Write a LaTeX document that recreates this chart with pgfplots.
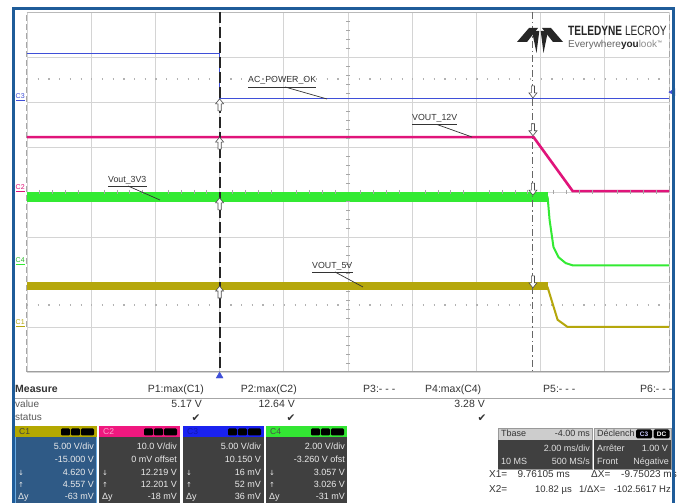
\documentclass[border=0pt]{standalone}
\usepackage{pgfplots}
\pgfplotsset{compat=1.18}
\usepackage{fontspec}
\setmainfont{Liberation Sans}
\newfontfamily\dejavu{DejaVu Sans}
\definecolor{frameblue}{HTML}{1F5C99}
\definecolor{trblue}{HTML}{3F4FD8}
\definecolor{trmag}{HTML}{E0147A}
\definecolor{trgreen}{HTML}{33EA33}
\definecolor{trolive}{HTML}{B5A70C}
\definecolor{gridgray}{HTML}{D4D4D4}
\definecolor{boxgray}{HTML}{404040}
\definecolor{c1body}{HTML}{2F5A86}
\definecolor{c1border}{HTML}{6AAAE0}
\definecolor{hdrgray}{HTML}{CDCDCD}
\definecolor{txtgray}{HTML}{333333}
\definecolor{hdrolive}{HTML}{B4A800}
\definecolor{hdrmag}{HTML}{F0187F}
\definecolor{hdrblue}{HTML}{1A22F0}
\definecolor{hdrgreen}{HTML}{33E633}
\pgfdeclareplotmark{uarr}{%
  \pgfpathmoveto{\pgfqpoint{0pt}{0pt}}%
  \pgfpathlineto{\pgfqpoint{4pt}{-5pt}}%
  \pgfpathlineto{\pgfqpoint{1.6pt}{-5pt}}%
  \pgfpathlineto{\pgfqpoint{1.6pt}{-12pt}}%
  \pgfpathlineto{\pgfqpoint{-1.6pt}{-12pt}}%
  \pgfpathlineto{\pgfqpoint{-1.6pt}{-5pt}}%
  \pgfpathlineto{\pgfqpoint{-4pt}{-5pt}}%
  \pgfpathclose
  \pgfusepathqfillstroke}
\pgfdeclareplotmark{darr}{%
  \pgfpathmoveto{\pgfqpoint{0pt}{0pt}}%
  \pgfpathlineto{\pgfqpoint{4pt}{5pt}}%
  \pgfpathlineto{\pgfqpoint{1.6pt}{5pt}}%
  \pgfpathlineto{\pgfqpoint{1.6pt}{12pt}}%
  \pgfpathlineto{\pgfqpoint{-1.6pt}{12pt}}%
  \pgfpathlineto{\pgfqpoint{-1.6pt}{5pt}}%
  \pgfpathlineto{\pgfqpoint{-4pt}{5pt}}%
  \pgfpathclose
  \pgfusepathqfillstroke}
\tikzset{
  lab/.style={inner sep=0pt, text=txtgray, font=\fontsize{8.8}{9}\selectfont},
  mt/.style={inner sep=0pt, text=txtgray, font=\fontsize{10.5}{12}\selectfont},
  bt/.style={inner sep=0pt, text=white!92!black, font=\fontsize{9}{10}\selectfont},
  tb/.style={inner sep=0pt, text=white!88!black, font=\fontsize{9}{10}\selectfont},
  th/.style={inner sep=0pt, text=txtgray, font=\fontsize{9}{10}\selectfont},
}
\newcommand{\chrows}[7]{%
  \node[bt,anchor=mid east] at (#1,447) {#3};
  \node[bt,anchor=mid east] at (#1,460) {#4};
  \node[bt,anchor=mid east] at (#1,472.5) {#5};
  \node[bt,anchor=mid east] at (#1,485) {#6};
  \node[bt,anchor=mid east] at (#1,497) {#7};
  \node[bt,anchor=mid west] at (#2,472.5) {{\dejavu\fontsize{7}{8}\selectfont ↓}};
  \node[bt,anchor=mid west] at (#2,485) {{\dejavu\fontsize{7}{8}\selectfont ↑}};
  \node[bt,anchor=mid west] at (#2,497) {Δy};
}
\newcommand{\badges}[1]{%
  \fill[black, rounded corners=1.2pt] (#1-36,428.5) rectangle (#1-27,435.5);
  \fill[black, rounded corners=1.2pt] (#1-26,428.5) rectangle (#1-17,435.5);
  \fill[black, rounded corners=1.2pt] (#1-16,428.5) rectangle (#1-3,435.5);
}
\begin{document}
\begin{tikzpicture}
\fill[white] (0,0) rectangle (681pt,503pt);
\useasboundingbox (0,0) rectangle (681pt,503pt);
\begin{axis}[
  at={(27pt,131pt)}, anchor=south west,
  scale only axis, width=642pt, height=360pt,
  xmin=-6, xmax=14, ymin=-4, ymax=4,
  xtick={-6,-4,...,14}, ytick={-4,-3,...,4},
  xticklabels={}, yticklabels={},
  major tick length=0pt,
  grid=major, major grid style={gridgray, line width=0.8pt},
  axis line style={draw=none},
  clip=false,
]
% borders
\draw[gray!55, line width=0.8pt] (axis cs:-6,4) -- (axis cs:14,4);
\draw[gray!75, line width=1pt] (axis cs:-6,-4) -- (axis cs:14,-4);
\draw[gray!70, line width=1pt, dash pattern=on 6pt off 3pt] (axis cs:-6,-4) -- (axis cs:-6,4);
\draw[gray!70, line width=1pt, dash pattern=on 6pt off 3pt] (axis cs:14,-4) -- (axis cs:14,4);
% centre minor ticks
\addplot[only marks, mark=-, mark size=2pt, gray!70, mark options={line width=0.7pt}] coordinates {
 (4,-3.8)(4,-3.6)(4,-3.4)(4,-3.2)(4,-2.8)(4,-2.6)(4,-2.4)(4,-2.2)
 (4,-1.8)(4,-1.6)(4,-1.4)(4,-1.2)(4,-0.8)(4,-0.6)(4,-0.4)(4,-0.2)
 (4,0.2)(4,0.4)(4,0.6)(4,0.8)(4,1.2)(4,1.4)(4,1.6)(4,1.8)
 (4,2.2)(4,2.4)(4,2.6)(4,2.8)(4,3.2)(4,3.4)(4,3.6)(4,3.8)};
\addplot[only marks, mark=|, mark size=2pt, gray!70, mark options={line width=0.7pt}] coordinates {
 (-5.6,0)(-5.2,0)(-4.8,0)(-4.4,0)(-3.6,0)(-3.2,0)(-2.8,0)(-2.4,0)
 (-1.6,0)(-1.2,0)(-0.8,0)(-0.4,0)(0.4,0)(0.8,0)(1.2,0)(1.6,0)
 (2.4,0)(2.8,0)(3.2,0)(3.6,0)(4.4,0)(4.8,0)(5.2,0)(5.6,0)
 (6.4,0)(6.8,0)(7.2,0)(7.6,0)(8.4,0)(8.8,0)(9.2,0)(9.6,0)
 (10.4,0)(10.8,0)(11.2,0)(11.6,0)(12.4,0)(12.8,0)(13.2,0)(13.6,0)};
% dotted level lines
\draw[gray!60, line width=1.2pt, dash pattern=on 1.2pt off 9.5pt] (axis cs:-6,2.51) -- (axis cs:14,2.51);
\draw[gray!60, line width=1.2pt, dash pattern=on 1.2pt off 9.5pt] (axis cs:-6,-2.51) -- (axis cs:14,-2.51);
% traces
\addplot[trblue, line width=1.2pt] coordinates {(-6,3.07) (0,3.07) (0,2.07) (14,2.07)};
\addplot[trmag, line width=2.6pt] coordinates {(-6,1.22) (9.78,1.22) (11.0,0.02) (14,0.02)};
\addplot[trgreen, line width=9.5pt] coordinates {(-6,-0.11) (10.22,-0.11)};
\addplot[trgreen, line width=2pt] coordinates {(10.15,-0.11) (10.22,-0.12) (10.28,-0.62) (10.40,-1.22) (10.56,-1.45) (10.78,-1.58) (11.0,-1.63) (14,-1.63)};
\addplot[trolive, line width=8pt] coordinates {(-6,-2.1) (10.22,-2.1)};
\addplot[trolive, line width=2pt] coordinates {(10.15,-2.1) (10.22,-2.12) (10.31,-2.33) (10.53,-2.84) (10.84,-3.0) (14,-3.0)};
% cursors
\draw[black!85, line width=1.8pt, dash pattern=on 11pt off 4pt] (axis cs:0,4) -- (axis cs:0,-4);
\draw[black!60, line width=1pt, dash pattern=on 7pt off 3pt on 1.5pt off 3pt] (axis cs:9.761,4) -- (axis cs:9.761,-4);
\addplot[only marks, mark=uarr, mark options={fill=white, draw=black!70, line width=0.6pt}] coordinates {(0,2.07) (0,1.22) (0,-0.13) (0,-2.09)};
\addplot[only marks, mark=darr, mark options={fill=white, draw=black!70, line width=0.6pt}] coordinates {(9.761,2.09) (9.761,1.25) (9.761,-0.07) (9.761,-2.13)};
% trigger markers
\addplot[only marks, mark=triangle*, mark size=4pt, trblue] coordinates {(0,-4.09)};
\addplot[only marks, mark=triangle*, mark size=4pt, trblue, mark options={rotate=90}] coordinates {(14.12,2.22)};
\end{axis}
\begin{scope}[x=1pt,y=-1pt,yshift=503pt]
% channel ground markers
\node[inner sep=0pt, text=trblue, font=\fontsize{7}{7}\selectfont, anchor=south west] at (15.5,99) {C3};
\draw[trblue, line width=1.2pt] (16,100.5) -- (25,100.5);
\node[inner sep=0pt, text=trmag, font=\fontsize{7}{7}\selectfont, anchor=south west] at (15.5,190) {C2};
\draw[trmag, line width=1.2pt] (16,191.5) -- (25,191.5);
\node[inner sep=0pt, text=trgreen!80!black, font=\fontsize{7}{7}\selectfont, anchor=south west] at (15.5,263) {C4};
\draw[trgreen, line width=1.2pt] (16,264.5) -- (25,264.5);
\node[inner sep=0pt, text=trolive, font=\fontsize{7}{7}\selectfont, anchor=south west] at (15.5,325) {C1};
\draw[trolive, line width=1.2pt] (16,326.5) -- (25,326.5);
% trace labels
\node[lab, anchor=mid west] (a) at (248,80) {AC\_POWER\_OK};
\draw[txtgray, line width=0.7pt] (248,87) -- (a.east |- 0,87);
\draw[txtgray, line width=0.7pt] (285,87) -- (327,99);
\node[lab, anchor=mid west] (b) at (412,118) {VOUT\_12V};
\draw[txtgray, line width=0.7pt] (412,124.5) -- (b.east |- 0,124.5);
\draw[txtgray, line width=0.7pt] (437,124.5) -- (472,137);
\node[lab, anchor=mid west] (c) at (108,180) {Vout\_3V3};
\draw[txtgray, line width=0.7pt] (108,186) -- (c.east |- 0,186);
\draw[txtgray, line width=0.7pt] (128,186) -- (160,200);
\node[lab, anchor=mid west] (d) at (312,266) {VOUT\_5V};
\draw[txtgray, line width=0.7pt] (312,272) -- (d.east |- 0,272);
\draw[txtgray, line width=0.7pt] (335,272) -- (363,287);
% logo
\fill[black!85] (517,42) -- (529,28) -- (538,28) -- (527,42) -- cycle;
\fill[black!85] (563,42) -- (551,28) -- (542,28) -- (553,42) -- cycle;
\fill[black!85] (532,31) -- (539.3,31) -- (536.5,53) -- cycle;
\fill[black!85] (540.7,31) -- (548,31) -- (543.5,53) -- cycle;
\node[inner sep=0pt, anchor=mid west, text=black!85] at (568,33) {\scalebox{0.75}[1]{\fontsize{13.5}{14}\selectfont\bfseries TELEDYNE \mdseries LECROY}};
\node[inner sep=0pt, anchor=mid west, text=black!60] at (568,45) {\fontsize{10}{11}\selectfont Everywhere\textcolor{black!85}{\bfseries you}\textcolor{black!45}{look}\textsuperscript{\fontsize{5}{5}\selectfont ™}};
% measure table
\node[mt, anchor=mid west, font=\fontsize{10.5}{12}\selectfont\bfseries] at (15,390) {Measure};
\node[mt, anchor=mid east] at (204,390) {P1:max(C1)};
\node[mt, anchor=mid east] at (297,390) {P2:max(C2)};
\node[mt, anchor=mid west] at (363,390) {P3:- - -};
\node[mt, anchor=mid west] at (425,390) {P4:max(C4)};
\node[mt, anchor=mid west] at (543,390) {P5:- - -};
\node[mt, anchor=mid west] at (640,390) {P6:- - -};
\draw[gray!70, line width=0.8pt] (15,398) -- (672,398);
\node[mt, anchor=mid west, text=black!65, font=\fontsize{10}{11}\selectfont] at (15,405) {value};
\node[mt, anchor=mid west, text=black!65, font=\fontsize{10}{11}\selectfont] at (15,418) {status};
\node[mt, anchor=mid east] at (202,405) {5.17 V};
\node[mt, anchor=mid east] at (295,405) {12.64 V};
\node[mt, anchor=mid east] at (485,405) {3.28 V};
\node[mt, font=\dejavu\fontsize{10.5}{11}\selectfont] at (196,418) {✔};
\node[mt, font=\dejavu\fontsize{10.5}{11}\selectfont] at (291,418) {✔};
\node[mt, font=\dejavu\fontsize{10.5}{11}\selectfont] at (482,418) {✔};
% channel boxes
\fill[hdrolive] (15,426.5) rectangle (97,437);
\fill[c1body] (15,437) rectangle (97,510);
\draw[c1border, line width=1pt] (15.5,437) -- (15.5,510) (96.5,437) -- (96.5,510);
\fill[hdrmag] (99,426.5) rectangle (180,437);
\fill[boxgray] (99,437) rectangle (180,510);
\fill[hdrblue] (183,426.5) rectangle (264,437);
\fill[boxgray] (183,437) rectangle (264,510);
\fill[hdrgreen] (266,426.5) rectangle (347,437);
\fill[boxgray] (266,437) rectangle (347,510);
\badges{97}\badges{180}\badges{264}\badges{347}
\node[inner sep=0pt, anchor=mid west, text=black!75, font=\fontsize{8.5}{9}\selectfont] at (19,432) {C1};
\node[inner sep=0pt, anchor=mid west, text=hdrmag!40!white, font=\fontsize{8.5}{9}\selectfont] at (103,432) {C2};
\node[inner sep=0pt, anchor=mid west, text=hdrblue!70!black, font=\fontsize{8.5}{9}\selectfont] at (187,432) {C3};
\node[inner sep=0pt, anchor=mid west, text=black!70, font=\fontsize{8.5}{9}\selectfont] at (270,432) {C4};
\chrows{94}{18}{5.00 V/div}{-15.000 V}{4.620 V}{4.557 V}{-63 mV}
\chrows{177}{102}{10.0 V/div}{0 mV offset}{12.219 V}{12.201 V}{-18 mV}
\chrows{261}{186}{5.00 V/div}{10.150 V}{16 mV}{52 mV}{36 mV}
\chrows{345}{269}{2.00 V/div}{-3.260 V ofst}{3.057 V}{3.026 V}{-31 mV}
% timebase and trigger
\fill[hdrgray] (498,428) rectangle (592,440);
\draw[gray!80, line width=0.6pt] (498,428) rectangle (592,469);
\fill[boxgray] (498,440) rectangle (592,469);
\fill[hdrgray] (594,428) rectangle (671,440);
\draw[gray!80, line width=0.6pt] (594,428) rectangle (671,469);
\fill[boxgray] (594,440) rectangle (671,469);
\node[th, anchor=mid west] at (501,434) {Tbase};
\node[th, anchor=mid east] at (590,434) {-4.00 ms};
\node[tb, anchor=mid east] at (590,449) {2.00 ms/div};
\node[tb, anchor=mid west] at (501,462) {10 MS};
\node[tb, anchor=mid east] at (590,462) {500 MS/s};
\node[th, anchor=mid west] at (597,434) {Déclench};
\fill[black, rounded corners=1.5pt] (636,429.5) rectangle (652,438.5);
\fill[black, rounded corners=1.5pt] (653.5,429.5) rectangle (669.5,438.5);
\node[inner sep=0pt, text=white!80!blue, font=\fontsize{6.5}{7}\selectfont\bfseries] at (644,434) {C3};
\node[inner sep=0pt, text=white, font=\fontsize{6.5}{7}\selectfont\bfseries] at (661.5,434) {DC};
\node[tb, anchor=mid west] at (597,449) {Arrêter};
\node[tb, anchor=mid east] at (668,449) {1.00 V};
\node[tb, anchor=mid west] at (597,462) {Front};
\node[tb, anchor=mid east] at (669,462) {Négative};
% cursor readouts
\node[mt, anchor=mid west, font=\fontsize{10}{11}\selectfont] at (489,475) {X1=};
\node[mt, anchor=mid east, font=\fontsize{10}{11}\selectfont] at (570,475) {9.76105 ms};
\node[mt, anchor=mid west, font=\fontsize{10}{11}\selectfont] at (591,475) {ΔX=};
\node[mt, anchor=mid east, font=\fontsize{10}{11}\selectfont] at (677,475) {-9.75023 ms};
\node[mt, anchor=mid west, font=\fontsize{10}{11}\selectfont] at (489,490) {X2=};
\node[mt, anchor=mid east, font=\fontsize{9.5}{11}\selectfont] at (572,490) {10.82 µs};
\node[mt, anchor=mid west, font=\fontsize{9.5}{11}\selectfont] at (579,490) {1/ΔX=};
\node[mt, anchor=mid east, font=\fontsize{9.5}{11}\selectfont] at (671,490) {-102.5617 Hz};
% frame
\draw[frameblue, line width=3pt] (13,520) -- (13,8.5) -- (673.5,8.5) -- (673.5,520);
\end{scope}
\end{tikzpicture}
\end{document}
